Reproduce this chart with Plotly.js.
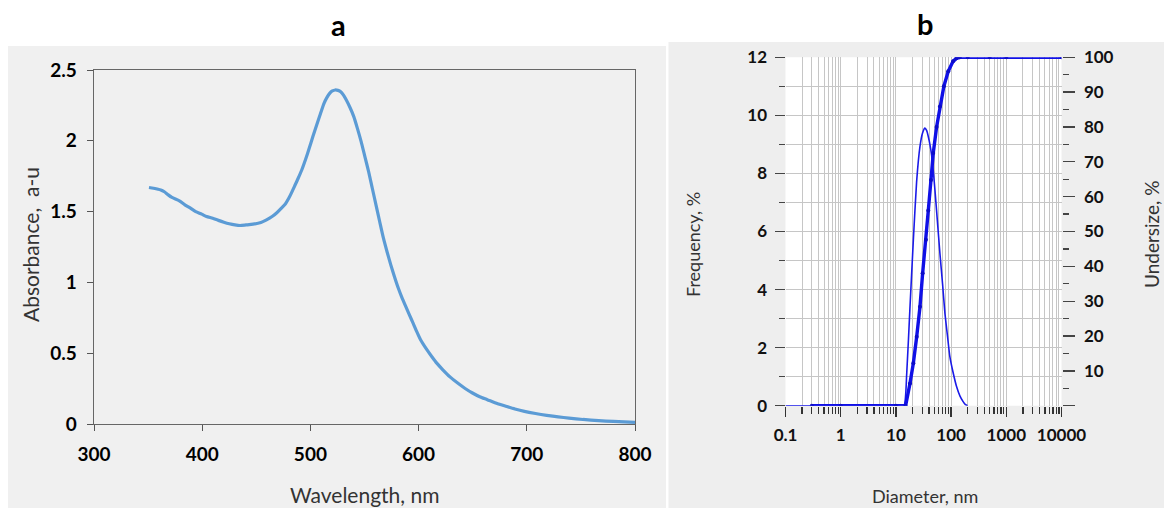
<!DOCTYPE html>
<html><head><meta charset="utf-8">
<script src="https://cdn.plot.ly/plotly-3.0.1.min.js"></script>
<style>html,body{margin:0;padding:0;background:#fff}#chart{width:1164px;height:508px}</style>
</head><body><div id="chart"></div>
<script>
// Panel a: UV-Vis absorbance spectrum
const wavelength = [350.8, 355, 361.7, 365, 368.6, 372, 378.9, 384, 389.2, 394, 399.5, 404, 409.7, 415, 420, 425, 430.3, 435, 440.6, 447, 454.3, 459, 464.6, 469, 473.2, 477, 480, 482.5, 485.2, 488.5, 492, 495.5, 498.9, 502.3, 505.8, 509.2, 512.6, 515.2, 517.8, 520.3, 522.9, 525.5, 528, 530.6, 533.2, 536.6, 540.1, 543.5, 546.9, 550.3, 553.8, 557.2, 560.6, 564, 567.5, 570.9, 574.3, 577.7, 581.2, 584.6, 588.1, 591.5, 594.9, 598.3, 601.8, 607, 612.1, 617, 622.4, 629, 636.1, 643, 649.8, 656.5, 663.5, 672, 680.7, 689, 697.8, 708, 718.4, 729, 739, 752, 766.4, 780, 790, 800];
const absorbance = [1.670, 1.665, 1.653, 1.640, 1.618, 1.600, 1.576, 1.548, 1.524, 1.500, 1.482, 1.465, 1.453, 1.438, 1.425, 1.414, 1.406, 1.402, 1.406, 1.411, 1.423, 1.440, 1.465, 1.492, 1.524, 1.556, 1.594, 1.632, 1.677, 1.732, 1.794, 1.868, 1.947, 2.030, 2.112, 2.190, 2.265, 2.305, 2.335, 2.352, 2.359, 2.356, 2.347, 2.322, 2.288, 2.235, 2.171, 2.086, 1.994, 1.890, 1.783, 1.665, 1.548, 1.430, 1.312, 1.215, 1.124, 1.040, 0.960, 0.892, 0.830, 0.770, 0.713, 0.652, 0.595, 0.532, 0.477, 0.428, 0.383, 0.333, 0.289, 0.251, 0.219, 0.193, 0.172, 0.146, 0.125, 0.106, 0.089, 0.074, 0.061, 0.050, 0.042, 0.032, 0.024, 0.018, 0.015, 0.012];
const wavelengthTicks = [300, 400, 500, 600, 700, 800];
const absorbanceTicks = [0, 0.5, 1, 1.5, 2, 2.5];
const absorbanceTickText = ['0', '0.5', '1', '1.5', '2', '2.5'];

// Panel b: particle size distribution
const diameterFreq = [0.1, 0.3, 1, 10, 14, 15.7, 18, 20.7, 23.7, 27.3, 30.5, 33.6, 36, 38.5, 41.3, 44.3, 47.5, 50.9, 56.5, 62.7, 70, 77.3, 86, 95, 110, 125.6, 145, 165, 182, 199];
const frequency = [0, 0, 0, 0, 0, 1.1, 3.4, 5.7, 7.7, 8.93, 9.4, 9.56, 9.48, 9.28, 9.0, 8.64, 8.1, 7.44, 6.35, 5.25, 4.2, 3.18, 2.4, 1.69, 1.1, 0.66, 0.33, 0.14, 0.04, 0];
const diameterCum = [0.3, 1, 10, 15, 18, 20.7, 23.8, 27.3, 30.5, 35, 38.6, 43.2, 47.5, 54.6, 62.7, 74, 88.8, 109, 125, 144, 200, 500, 1000, 10000];
const undersize = [0, 0, 0, 0, 6.4, 12.2, 19.8, 28.4, 38, 47.6, 56, 64.8, 72.5, 80, 85.9, 91.7, 96, 98.9, 99.7, 100, 100, 100, 100, 100];
const logTickVals = [0.1, 1, 10, 100, 1000, 10000];
const logTickText = ['0.1', '1', '10', '100', '1000', '10000'];
const freqTicks = [0, 2, 4, 6, 8, 10, 12];
const undersizeTicks = [0, 10, 20, 30, 40, 50, 60, 70, 80, 90, 100];
const undersizeTickText = ['', '10', '20', '30', '40', '50', '60', '70', '80', '90', '100'];

const W = 1164, H = 508;
const px = v => v / W;
const py = v => 1 - v / H;

const logMinor = [];
for (let e = -1; e < 4; e++) for (let d = 2; d <= 9; d++) logMinor.push(d * Math.pow(10, e));
const freqMinor = [1, 3, 5, 7, 9, 11];
const undersizeMinor = [5, 15, 25, 35, 45, 55, 65, 75, 85, 95];

const FONT = 'Lato, "Open Sans", sans-serif';
const tickFontA = {family: FONT, size: 19, color: '#000', weight: 'bold'};
const tickFontB = {family: FONT, size: 17, color: '#111', weight: 'bold'};
const gridC = '#c6c6c6';

const traces = [
  {x: wavelength, y: absorbance, xaxis: 'x', yaxis: 'y', mode: 'lines',
   line: {color: '#5b9bd5', width: 3.2, shape: 'spline', smoothing: 0.6}, hoverinfo: 'skip', showlegend: false},
  {x: diameterFreq, y: frequency, xaxis: 'x2', yaxis: 'y2', mode: 'lines',
   line: {color: '#1a1ae8', width: 1.6, shape: 'spline', smoothing: 0.5}, showlegend: false},
  {x: diameterCum, y: undersize, xaxis: 'x2', yaxis: 'y3', mode: 'lines+markers',
   line: {color: '#1010e6', width: 3.4}, marker: {size: 4, color: '#0c0cc8'}, showlegend: false}
];

const layout = {
  width: W, height: H,
  margin: {l: 0, r: 0, t: 0, b: 0},
  paper_bgcolor: '#ffffff',
  plot_bgcolor: 'rgba(0,0,0,0)',
  showlegend: false,
  font: {family: FONT, color: '#111'},
  xaxis: {
    domain: [px(94), px(635)], anchor: 'y', range: [300, 800],
    tickmode: 'array', tickvals: wavelengthTicks,
    ticks: 'outside', ticklen: 6, tickcolor: '#555', tickwidth: 1,
    ticklabelstandoff: 7,
    showline: true, linecolor: '#666', linewidth: 1.3, mirror: true,
    showgrid: false, zeroline: false, tickfont: tickFontA, fixedrange: true
  },
  yaxis: {
    domain: [py(424), py(70)], anchor: 'x', range: [0, 2.5],
    tickmode: 'array', tickvals: absorbanceTicks, ticktext: absorbanceTickText,
    ticks: 'outside', ticklen: 6, tickcolor: '#555', tickwidth: 1,
    ticklabelstandoff: 6,
    showline: true, linecolor: '#666', linewidth: 1.3, mirror: true,
    showgrid: false, zeroline: false, tickfont: tickFontA, fixedrange: true
  },
  xaxis2: {
    type: 'log', domain: [px(785.5), px(1061.5)], anchor: 'y2', range: [-1, 4],
    tickmode: 'array', tickvals: logTickVals, ticktext: logTickText,
    ticks: 'outside', ticklen: 10, tickcolor: '#333', tickwidth: 1.3,
    ticklabelstandoff: 4,
    showgrid: true, gridcolor: gridC, gridwidth: 1,
    minor: {tickmode: 'array', tickvals: logMinor, ticks: 'outside', ticklen: 7,
            tickcolor: '#333', tickwidth: 1.3, showgrid: true, gridcolor: gridC, gridwidth: 1},
    showline: false, zeroline: false, tickfont: tickFontB, fixedrange: true
  },
  yaxis2: {
    domain: [py(405.7), py(57.3)], anchor: 'x2', range: [0, 12],
    tickmode: 'array', tickvals: freqTicks,
    ticks: 'outside', ticklen: 10, tickcolor: '#444', tickwidth: 1.3,
    ticklabelstandoff: 4,
    showgrid: true, gridcolor: gridC, gridwidth: 1,
    minor: {tickmode: 'array', tickvals: freqMinor, ticks: 'outside', ticklen: 6,
            tickcolor: '#444', tickwidth: 1.3, showgrid: true, gridcolor: gridC, gridwidth: 1},
    showline: false, zeroline: false, tickfont: tickFontB, fixedrange: true
  },
  yaxis3: {
    overlaying: 'y2', side: 'right', anchor: 'x2', range: [0, 100],
    tickmode: 'array', tickvals: undersizeTicks, ticktext: undersizeTickText,
    ticks: 'outside', ticklen: 12, tickcolor: '#444', tickwidth: 1.3,
    ticklabelstandoff: 6,
    minor: {tickmode: 'array', tickvals: undersizeMinor, ticks: 'outside', ticklen: 6,
            tickcolor: '#444', tickwidth: 1.3, showgrid: false},
    showgrid: false, showline: false, zeroline: false, tickfont: tickFontB, fixedrange: true
  },
  shapes: [
    {type: 'rect', xref: 'paper', yref: 'paper', x0: px(8), x1: px(666), y0: 0, y1: py(46),
     fillcolor: '#f0f0f0', line: {width: 0}, layer: 'below'},
    {type: 'rect', xref: 'paper', yref: 'paper', x0: px(668.5), x1: 1, y0: 0, y1: py(42),
     fillcolor: '#eeeeee', line: {width: 0}, layer: 'below'},
    {type: 'rect', xref: 'paper', yref: 'paper', x0: px(785.5), x1: px(1061.5), y0: py(405.7), y1: py(57.3),
     fillcolor: '#ffffff', line: {width: 0}, layer: 'below'}
  ],
  annotations: [
    {text: 'a', x: px(338), y: py(24), xref: 'paper', yref: 'paper', xanchor: 'center', yanchor: 'middle',
     showarrow: false, font: {family: FONT, size: 29, color: '#000', weight: 'bold'}},
    {text: 'b', x: px(925), y: py(23), xref: 'paper', yref: 'paper', xanchor: 'center', yanchor: 'middle',
     showarrow: false, font: {family: FONT, size: 29, color: '#000', weight: 'bold'}},
    {text: 'Absorbance,  a-u', x: px(30), y: py(245), xref: 'paper', yref: 'paper', xanchor: 'center', yanchor: 'middle',
     textangle: -90, showarrow: false, font: {family: FONT, size: 21, color: '#333'}},
    {text: 'Wavelength, nm', x: px(364), y: py(494), xref: 'paper', yref: 'paper', xanchor: 'center', yanchor: 'middle',
     showarrow: false, font: {family: FONT, size: 21, color: '#333'}},
    {text: 'Frequency, %', x: px(693), y: py(245), xref: 'paper', yref: 'paper', xanchor: 'center', yanchor: 'middle',
     textangle: -90, showarrow: false, font: {family: FONT, size: 18, color: '#333'}},
    {text: 'Undersize, %', x: px(1151), y: py(235), xref: 'paper', yref: 'paper', xanchor: 'center', yanchor: 'middle',
     textangle: -90, showarrow: false, font: {family: FONT, size: 19, color: '#333'}},
    {text: 'Diameter, nm', x: px(925), y: py(496), xref: 'paper', yref: 'paper', xanchor: 'center', yanchor: 'middle',
     showarrow: false, font: {family: FONT, size: 18, color: '#333'}}
  ]
};

Plotly.newPlot('chart', traces, layout, {displayModeBar: false, staticPlot: true});
</script>
</body></html>
